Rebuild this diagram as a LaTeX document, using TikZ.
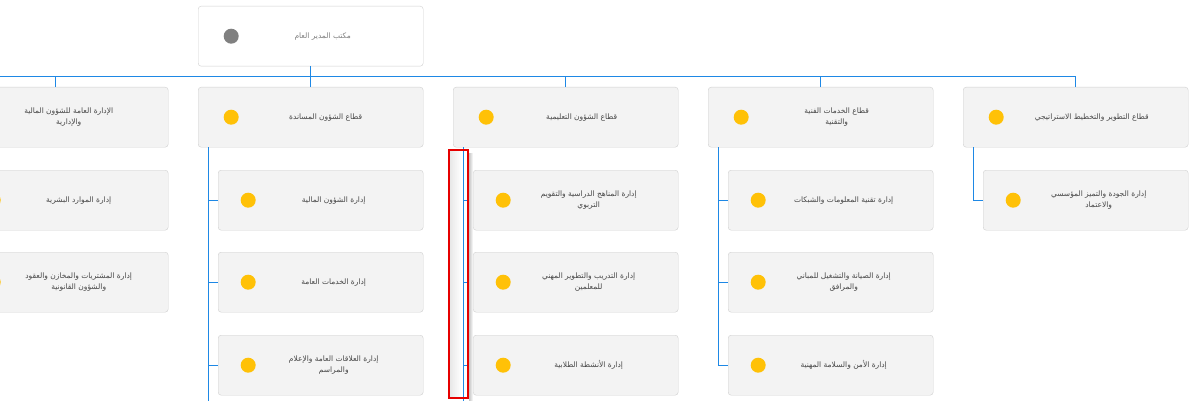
\documentclass[tikz,border=0pt]{standalone}
\usepackage{fontspec}
\newfontfamily\arabicfont[Script=Arabic]{DejaVu Sans}
\TeXXeTstate=1
\usetikzlibrary{positioning}
\definecolor{linkblue}{RGB}{30,136,229}
\definecolor{boxgray}{RGB}{243,243,243}
\definecolor{edgegray}{RGB}{208,208,208}
\definecolor{dotamber}{RGB}{255,193,7}
\definecolor{dotgray}{RGB}{128,128,128}
\definecolor{txtgray}{RGB}{70,70,70}
\definecolor{selred}{RGB}{230,0,0}
\newcommand{\ar}[1]{\beginR #1\endR}

\begin{document}
\begin{tikzpicture}[x=1pt,y=-1pt,%one unit = one pixel, y downwards
  unit/.style={draw=edgegray, fill=boxgray, rounded corners=3pt, minimum width=225pt, minimum height=60pt, inner sep=0pt, anchor=north west},
  subunit/.style={unit, minimum width=205pt},
  headunit/.style={unit, fill=white},
  dot/.style={circle, fill=dotamber, minimum size=15pt, inner sep=0pt},
  lbl/.style={text=txtgray, font=\arabicfont\fontsize{7.5}{10.5}\selectfont, align=center},
  link/.style={draw=linkblue, line width=1pt},
  selbox/.style={draw=selred, line width=2pt}]
\useasboundingbox (0,0) rectangle (1196,401);
\fill[white] (0,0) rectangle (1196,401);
\clip (0,0) rectangle (1196,401);

% head
\node[headunit] (head) at (198,6) {};
\node[dot, fill=dotgray, right=25.5pt of head.west] (head-dot) {};
\node[lbl, text=gray] (head-t) at ([xshift=12pt]head.center) {\ar{مكتب المدير العام}};

% sectors
\node[unit] (sec1) at (-57,87) {};
\node[unit] (sec2) at (198,87) {};
\node[unit] (sec3) at (453,87) {};
\node[unit] (sec4) at (708,87) {};
\node[unit] (sec5) at (963,87) {};
\node[lbl] (sec1-t) at ([xshift=13pt]sec1.center) {\ar{الإدارة العامة للشؤون المالية}\\\ar{والإدارية}};
\node[lbl] (sec2-t) at ([xshift=15pt]sec2.center) {\ar{قطاع الشؤون المساندة}};
\node[lbl] (sec3-t) at ([xshift=16pt]sec3.center) {\ar{قطاع الشؤون التعليمية}};
\node[lbl] (sec4-t) at ([xshift=16pt]sec4.center) {\ar{قطاع الخدمات الفنية}\\\ar{والتقنية}};
\node[lbl] (sec5-t) at ([xshift=16pt]sec5.center) {\ar{قطاع التطوير والتخطيط الاستراتيجي}};

% departments
\node[subunit] (sec1a) at (-37,170) {};
\node[subunit] (sec1b) at (-37,252) {};
\node[subunit] (sec2a) at (218,170) {};
\node[subunit] (sec2b) at (218,252) {};
\node[subunit] (sec2c) at (218,335) {};
\node[subunit] (sec3a) at (473,170) {};
\node[subunit] (sec3b) at (473,252) {};
\node[subunit] (sec3c) at (473,335) {};
\node[subunit] (sec4a) at (728,170) {};
\node[subunit] (sec4b) at (728,252) {};
\node[subunit] (sec4c) at (728,335) {};
\node[subunit] (sec5a) at (983,170) {};
\node[lbl] (sec1a-t) at ([xshift=13pt]sec1a.center) {\ar{إدارة الموارد البشرية}};
\node[lbl] (sec1b-t) at ([xshift=13pt]sec1b.center) {\ar{إدارة المشتريات والمخازن والعقود}\\\ar{والشؤون القانونية}};
\node[lbl] (sec2a-t) at ([xshift=13pt]sec2a.center) {\ar{إدارة الشؤون المالية}};
\node[lbl] (sec2b-t) at ([xshift=13pt]sec2b.center) {\ar{إدارة الخدمات العامة}};
\node[lbl] (sec2c-t) at ([xshift=13pt]sec2c.center) {\ar{إدارة العلاقات العامة والإعلام}\\\ar{والمراسم}};
\node[lbl] (sec3a-t) at ([xshift=13pt]sec3a.center) {\ar{إدارة المناهج الدراسية والتقويم}\\\ar{التربوي}};
\node[lbl] (sec3b-t) at ([xshift=13pt]sec3b.center) {\ar{إدارة التدريب والتطوير المهني}\\\ar{للمعلمين}};
\node[lbl] (sec3c-t) at ([xshift=13pt]sec3c.center) {\ar{إدارة الأنشطة الطلابية}};
\node[lbl] (sec4a-t) at ([xshift=13pt]sec4a.center) {\ar{إدارة تقنية المعلومات والشبكات}};
\node[lbl] (sec4b-t) at ([xshift=13pt]sec4b.center) {\ar{إدارة الصيانة والتشغيل للمباني}\\\ar{والمرافق}};
\node[lbl] (sec4c-t) at ([xshift=13pt]sec4c.center) {\ar{إدارة الأمن والسلامة المهنية}};
\node[lbl] (sec5a-t) at ([xshift=13pt]sec5a.center) {\ar{إدارة الجودة والتميز المؤسسي}\\\ar{والاعتماد}};

% dots
\foreach \b in {sec1,sec2,sec3,sec4,sec5}
  \node[dot, right=25.5pt of \b.west] (\b-dot) {};
\foreach \b in {sec1a,sec1b,sec2a,sec2b,sec2c,sec3a,sec3b,sec3c,sec4a,sec4b,sec4c,sec5a}
  \node[dot, right=22.5pt of \b.west] (\b-dot) {};

% connectors
\coordinate (busleft) at (-80,77);
\coordinate (sec1more) at (-47,410);
\coordinate (sec2more) at (208,410);
\coordinate (sec3more) at (463,410);
\draw[link] (head.south) -- (head.south |- busleft);
\draw[link] (busleft) -| (sec5.north);
\foreach \b in {sec1,sec2,sec3,sec4}
  \draw[link] (\b.north) -- (\b.north |- busleft);
\draw[link] ([xshift=10pt]sec1.south west) -- (sec1more);
\draw[link] ([xshift=10pt]sec2.south west) -- (sec2more);
\draw[link] ([xshift=10pt]sec1.south west) |- (sec1a.west);
\draw[link] ([xshift=10pt]sec1.south west) |- (sec1b.west);
\draw[link] ([xshift=10pt]sec2.south west) |- (sec2a.west);
\draw[link] ([xshift=10pt]sec2.south west) |- (sec2b.west);
\draw[link] ([xshift=10pt]sec2.south west) |- (sec2c.west);
\draw[link] ([xshift=10pt]sec3.south west) |- (sec3a.west);
\draw[link] ([xshift=10pt]sec3.south west) |- (sec3b.west);
\draw[link] ([xshift=10pt]sec3.south west) |- (sec3c.west);
\draw[link] ([xshift=10pt]sec4.south west) |- (sec4a.west);
\draw[link] ([xshift=10pt]sec4.south west) |- (sec4b.west);
\draw[link] ([xshift=10pt]sec4.south west) |- (sec4c.west);
\draw[link] ([xshift=10pt]sec5.south west) |- (sec5a.west);

% selection
\shade[left color=gray!22, right color=white, opacity=.8] (450,151) rectangle (461,397);
\shade[left color=gray!45, right color=white] (469,153) rectangle (473,400);
\draw[link] ([xshift=10pt]sec3.south west) -- (sec3more);
\draw[selbox] (449,150) rectangle (468,398);
\end{tikzpicture}
\end{document}
